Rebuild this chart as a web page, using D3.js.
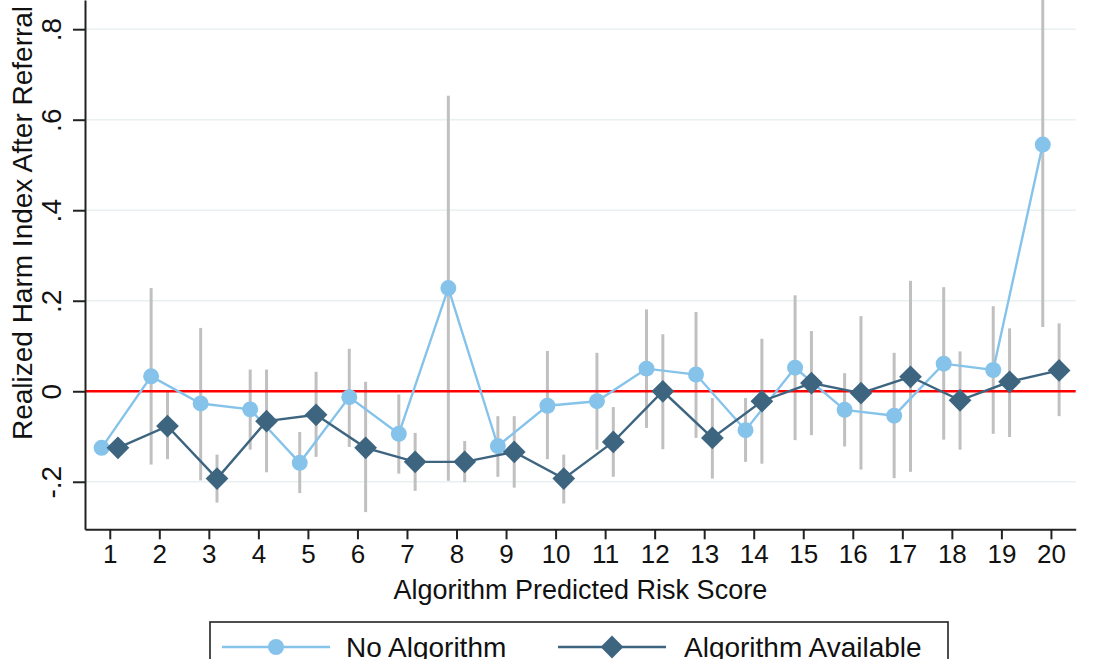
<!DOCTYPE html>
<html>
<head>
<meta charset="utf-8">
<script src="https://cdn.jsdelivr.net/npm/d3@7"></script>
<style>
  body { margin: 0; background: #fff; }
  svg { display: block; font-family: "Liberation Sans", Arial, sans-serif; }
  .grid line { stroke: #e8f0f2; stroke-width: 1.6; }
  .axis path, .axis line { stroke: #222; stroke-width: 2; }
  .axis text { fill: #111; }
</style>
</head>
<body>
<svg id="chart" width="1104" height="659"></svg>
<script>
const scores = d3.range(1, 21)

// No Algorithm (circles): point estimate and 95% CI
const noAlgo   = [-0.125, 0.033, -0.027, -0.040, -0.158, -0.013, -0.094, 0.228, -0.121, -0.032, -0.022, 0.050, 0.037, -0.086, 0.052, -0.041, -0.054, 0.061, 0.047, 0.545]
const noAlgoLo = [null, -0.162, -0.197, -0.129, -0.225, -0.123, -0.182, -0.198, -0.189, -0.150, -0.129, -0.081, -0.103, -0.156, -0.108, -0.122, -0.192, -0.107, -0.094, 0.142]
const noAlgoHi = [null, 0.228, 0.140, 0.048, -0.090, 0.094, -0.007, 0.653, -0.055, 0.089, 0.085, 0.181, 0.175, -0.015, 0.212, 0.040, 0.085, 0.230, 0.188, 0.950]

// Algorithm Available (diamonds)
const algo   = [-0.125, -0.077, -0.193, -0.066, -0.052, -0.125, -0.156, -0.156, -0.134, -0.193, -0.112, 0.000, -0.103, -0.022, 0.018, -0.004, 0.032, -0.020, 0.021, 0.046]
const algoLo = [null, -0.150, -0.246, -0.179, -0.145, -0.267, -0.220, -0.201, -0.213, -0.248, -0.189, -0.128, -0.193, -0.160, -0.097, -0.173, -0.178, -0.129, -0.101, -0.055]
const algoHi = [null, 0.000, -0.140, 0.048, 0.043, 0.021, -0.092, -0.110, -0.055, -0.140, -0.035, 0.126, -0.015, 0.116, 0.133, 0.166, 0.244, 0.088, 0.139, 0.150]

const yTicks = [-0.2, 0, 0.2, 0.4, 0.6, 0.8]
const yTickLabels = ['-.2', '0', '.2', '.4', '.6', '.8']

const lightBlue = '#86c3ea'
const darkBlue = '#3e6580'
const barGrey = '#c0c0c0'

const svg = d3.select('#chart')

const plotLeft = 85, plotRight = 1075.7, plotBottom = 529.3, plotTop = 0

const x = d3.scaleLinear().domain([0.5, 20.5]).range([plotLeft, plotRight])
const y = d3.scaleLinear().domain([-0.305, 0.8645]).range([plotBottom, plotTop])

const shift = 0.165

const series = [
    { name: 'No Algorithm', vals: noAlgo, lo: noAlgoLo, hi: noAlgoHi, dx: -shift, color: lightBlue, shape: d3.symbolCircle, size: 200 },
    { name: 'Algorithm Available', vals: algo, lo: algoLo, hi: algoHi, dx: shift, color: darkBlue, shape: d3.symbolDiamond2, size: 330 }
]

// gridlines
svg.append('g')
    .attr('class', 'grid')
    .selectAll('line')
    .data(yTicks.filter(d => d !== 0))
    .enter()
    .append('line')
    .attr('x1', plotLeft)
    .attr('x2', plotRight)
    .attr('y1', d => y(d))
    .attr('y2', d => y(d))

// error bars
series.forEach(s => {
    svg.append('g')
        .selectAll('line')
        .data(scores.filter((d, i) => s.lo[i] !== null))
        .enter()
        .append('line')
        .attr('x1', d => x(d + s.dx))
        .attr('x2', d => x(d + s.dx))
        .attr('y1', d => y(s.lo[d - 1]))
        .attr('y2', d => y(s.hi[d - 1]))
        .attr('stroke', barGrey)
        .attr('stroke-width', 3)
})

// zero line
svg.append('line')
    .attr('x1', plotLeft)
    .attr('x2', plotRight)
    .attr('y1', y(0))
    .attr('y2', y(0))
    .attr('stroke', '#ff0000')
    .attr('stroke-width', 2.5)

// lines and markers
series.forEach(s => {
    const line = d3.line()
        .x(d => x(d + s.dx))
        .y(d => y(s.vals[d - 1]))

    svg.append('path')
        .datum(scores)
        .attr('d', line)
        .attr('fill', 'none')
        .attr('stroke', s.color)
        .attr('stroke-width', 2.4)

    svg.append('g')
        .selectAll('path')
        .data(scores)
        .enter()
        .append('path')
        .attr('d', d3.symbol().type(s.shape).size(s.size))
        .attr('transform', d => `translate(${x(d + s.dx)},${y(s.vals[d - 1])})`)
        .attr('fill', s.color)
})

// x axis
const xAxis = svg.append('g')
    .attr('class', 'axis')
    .attr('transform', `translate(0,${plotBottom})`)
    .call(d3.axisBottom(x).tickValues(scores).tickSize(10).tickSizeOuter(0).tickPadding(5))

xAxis.selectAll('text')
    .style('font-size', '26px')

// y axis
const yAxis = svg.append('g')
    .attr('class', 'axis')
    .attr('transform', `translate(${plotLeft},0)`)
    .call(d3.axisLeft(y).tickValues(yTicks).tickFormat((d, i) => yTickLabels[i]).tickSize(12).tickSizeOuter(0))

yAxis.selectAll('text')
    .attr('transform', 'rotate(-90)')
    .attr('x', 0)
    .attr('y', -24)
    .attr('dy', 0)
    .attr('text-anchor', 'middle')
    .style('font-size', '28px')

// titles
svg.append('text')
    .attr('x', (plotLeft + plotRight) / 2)
    .attr('y', 599)
    .attr('text-anchor', 'middle')
    .style('font-size', '27px')
    .attr('fill', '#111')
    .text('Algorithm Predicted Risk Score')

svg.append('text')
    .attr('transform', 'translate(32,223) rotate(-90)')
    .attr('text-anchor', 'middle')
    .style('font-size', '28px')
    .attr('fill', '#111')
    .text('Realized Harm Index After Referral')

// legend
const legend = svg.append('g')

legend.append('rect')
    .attr('x', 210)
    .attr('y', 622)
    .attr('width', 738)
    .attr('height', 80)
    .attr('fill', '#fff')
    .attr('stroke', '#222')
    .attr('stroke-width', 1.6)

const legendItems = [
    { s: series[0], x1: 222, x2: 330, tx: 346 },
    { s: series[1], x1: 558, x2: 666, tx: 684 }
]

legendItems.forEach(item => {
    const ly = 647
    legend.append('line')
        .attr('x1', item.x1)
        .attr('x2', item.x2)
        .attr('y1', ly)
        .attr('y2', ly)
        .attr('stroke', item.s.color)
        .attr('stroke-width', 2.4)
    legend.append('path')
        .attr('d', d3.symbol().type(item.s.shape).size(item.s.size))
        .attr('transform', `translate(${(item.x1 + item.x2) / 2},${ly})`)
        .attr('fill', item.s.color)
    legend.append('text')
        .attr('x', item.tx)
        .attr('y', 657)
        .style('font-size', '28px')
        .attr('fill', '#111')
        .text(item.s.name)
})
</script>
</body>
</html>
